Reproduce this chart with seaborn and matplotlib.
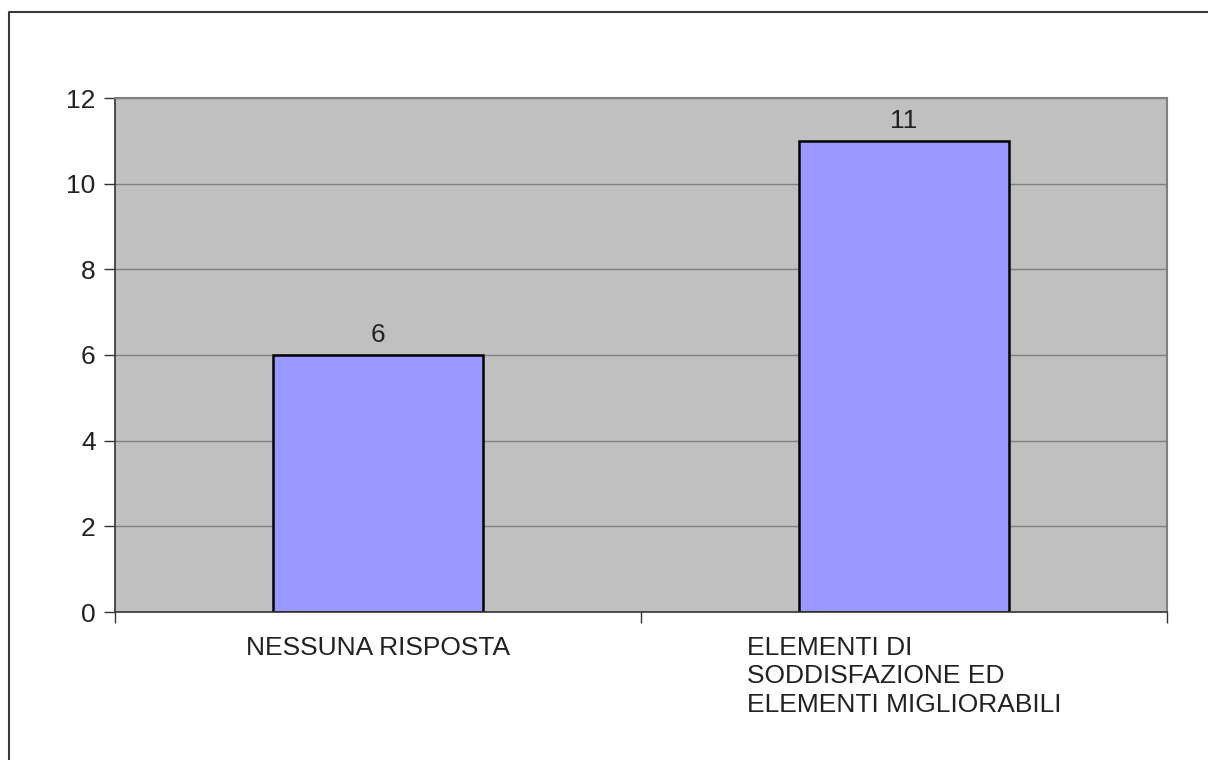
import matplotlib
matplotlib.use("Agg")
import matplotlib.pyplot as plt
import seaborn as sns
from matplotlib.lines import Line2D
from matplotlib.ticker import FixedLocator

categories = ["NESSUNA RISPOSTA",
              "ELEMENTI DI\nSODDISFAZIONE ED\nELEMENTI MIGLIORABILI"]
values = [6, 11]
y_ticks = [0, 2, 4, 6, 8, 10, 12]

sns.set_theme(style="white")
plt.rcParams["font.family"] = ["Liberation Sans", "DejaVu Sans"]

FS = 19
W, H = 1208, 760
fig = plt.figure(figsize=(W / 100, H / 100), dpi=100, facecolor="white")
ax = fig.add_axes([115 / W, (H - 612) / H, (1167 - 115) / W, (612 - 98) / H])
ax.set_facecolor("#C0C0C0")

# horizontal gridlines behind the bars
for y in y_ticks[1:]:
    ax.axhline(y, color="#808080", lw=1.0, zorder=0)

sns.barplot(x=categories, y=values, ax=ax, color="#9999FF", saturation=1,
            width=0.4, edgecolor="black", linewidth=1.8, zorder=2)

ax.set_xlim(-0.5, 1.5)
ax.set_ylim(0, 12)
ax.set_yticks(y_ticks)
ax.set_yticklabels([str(v) for v in y_ticks])
ax.set_xlabel("")
ax.set_ylabel("")

ax.tick_params(axis="y", which="major", direction="out", length=8, width=1,
               color="#333333", pad=6, labelsize=FS, labelcolor="#222222", left=True)
ax.tick_params(axis="x", which="major", length=0, pad=17, labelsize=FS,
               labelcolor="#222222")
ax.xaxis.set_minor_locator(FixedLocator([-0.5, 0.5, 1.5]))
ax.tick_params(axis="x", which="minor", direction="out", length=8, width=1,
               color="#333333", bottom=True)
for lbl in ax.get_xticklabels():
    lbl.set_multialignment("left")
    lbl.set_verticalalignment("top")
    lbl.set_linespacing(1.25)

for side in ["left", "bottom"]:
    ax.spines[side].set_color("#333333")
    ax.spines[side].set_linewidth(1.2)
for side in ["top", "right"]:
    ax.spines[side].set_color("#808080")
    ax.spines[side].set_linewidth(1.5)

for c in ax.containers:
    ax.bar_label(c, labels=[str(v) for v in values], padding=6,
                 fontsize=FS, color="#222222")

# outer frame of the chart
fig.add_artist(Line2D([9 / W, 9 / W, 1.0], [0.0, (H - 12) / H, (H - 12) / H],
                      transform=fig.transFigure, color="#3a3a3a", lw=1.5))

fig.savefig("out.png", dpi=100, facecolor="white")
